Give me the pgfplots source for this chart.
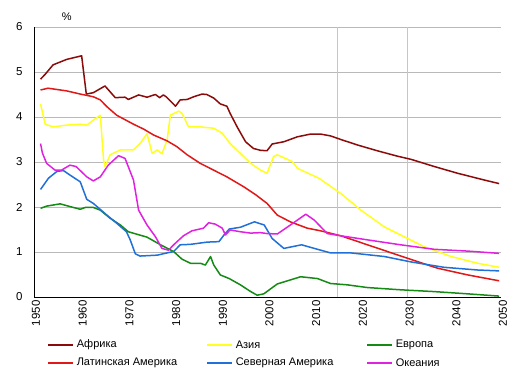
\documentclass[border=0pt]{standalone}
\usepackage{pgfplots}
\pgfplotsset{compat=1.18}
\usepackage{fontspec}
\setmainfont{Liberation Sans}
\definecolor{cAfr}{HTML}{8B0A0A}
\definecolor{cAsia}{HTML}{FFFF22}
\definecolor{cEur}{HTML}{158A15}
\definecolor{cLat}{HTML}{E01818}
\definecolor{cNA}{HTML}{2070D8}
\definecolor{cOce}{HTML}{E022E0}
\begin{document}
\begin{tikzpicture}
\path[use as bounding box] (0pt,0pt) rectangle (516pt,375pt);
\begin{axis}[
  at={(34pt,78pt)}, anchor=south west,
  width=467pt, height=270pt, scale only axis,
  xmin=1950, xmax=2050, ymin=0, ymax=6,
  axis x line*=bottom, axis y line*=left,
  axis line style={black, line width=1pt, -},
  xtick={1950,1960,...,2050}, ytick={0,1,...,6},
  major tick length=0pt,
  ymajorgrids, grid style={gray!55, line width=0.6pt},
  extra x ticks={2015,2030}, extra x tick labels={},
  extra x tick style={xmajorgrids=true, ymajorgrids=false, grid style={gray!45, line width=0.6pt}},
  x tick label style={rotate=90, anchor=east, font=\fontsize{11.5}{13}\selectfont, /pgf/number format/1000 sep={}},
  y tick label style={font=\fontsize{11.5}{13}\selectfont, xshift=-8pt},
  /pgf/number format/assume math mode=true,
  xticklabel style={yshift=-2pt},
  every axis plot/.append style={line width=1.5pt, line join=round},
  clip=false,
]
\addplot[cAfr] coordinates {
(1951.4,4.84)(1952.4,4.95)(1954.1,5.16)(1957,5.28)(1960.2,5.36)(1961.2,4.51)(1962.7,4.54)(1965.2,4.69)(1967.4,4.43)(1969.5,4.44)(1970.2,4.39)(1972.4,4.49)(1974.2,4.44)(1976,4.5)(1976.9,4.43)(1977.7,4.49)(1978.3,4.45)(1980.3,4.24)(1981.3,4.38)(1982.8,4.39)(1984.2,4.45)(1986,4.51)(1987,4.5)(1988.5,4.42)(1989.9,4.29)(1991.3,4.24)(1992,4.08)(1993.5,3.78)(1995.3,3.45)(1997,3.3)(1998.5,3.26)(1999.9,3.25)(2001,3.4)(2003.5,3.45)(2006.4,3.56)(2009.2,3.62)(2011.4,3.62)(2013.5,3.58)(2015.7,3.5)(2019.2,3.38)(2023.5,3.25)(2027.8,3.13)(2030.7,3.06)(2035.7,2.9)(2040.7,2.75)(2046.4,2.6)(2049.6,2.52)};
\addplot[cAsia] coordinates {
(1951.4,4.29)(1952.4,3.84)(1954.1,3.78)(1957,3.82)(1959.9,3.84)(1961.3,3.82)(1962.7,3.93)(1964.2,4.04)(1964.9,3.04)(1965.2,2.9)(1966.3,3.16)(1968.5,3.27)(1971.3,3.27)(1972.7,3.41)(1974.2,3.63)(1975.3,3.19)(1976.4,3.27)(1977.4,3.18)(1978.5,3.49)(1979.2,4.04)(1981,4.13)(1981.7,4.08)(1983.1,3.78)(1985.6,3.78)(1988.5,3.75)(1990.3,3.64)(1992,3.41)(1994.2,3.19)(1996.4,2.97)(1998.5,2.82)(1999.9,2.75)(2001.3,3.12)(2002.1,3.16)(2005.3,3.01)(2006.4,2.86)(2011,2.64)(2015.7,2.3)(2020,1.93)(2025,1.56)(2030,1.3)(2033.5,1.12)(2039.3,0.9)(2045,0.75)(2049.6,0.66)};
\addplot[cEur] coordinates {
(1951.4,1.97)(1952.7,2.02)(1955.6,2.07)(1957.7,2.01)(1959.9,1.95)(1961,1.99)(1962.7,1.99)(1964.2,1.93)(1966.3,1.75)(1968.5,1.6)(1970.2,1.45)(1974.2,1.33)(1977.1,1.16)(1979.9,1.01)(1981.7,0.84)(1983.5,0.75)(1985.6,0.75)(1986.7,0.71)(1987.8,0.9)(1988.5,0.71)(1989.9,0.49)(1991.8,0.41)(1994.2,0.27)(1996.4,0.12)(1997.8,0.04)(1999.2,0.07)(2002.1,0.29)(2007.1,0.45)(2010.7,0.41)(2013.5,0.3)(2017.1,0.27)(2021.4,0.21)(2028.5,0.16)(2035.7,0.12)(2042.9,0.07)(2049.6,0.02)};
\addplot[cLat] coordinates {
(1951.4,4.6)(1953,4.64)(1957,4.58)(1959.9,4.51)(1962.7,4.45)(1964.2,4.38)(1965.6,4.23)(1967.7,4.04)(1971.3,3.84)(1973.5,3.73)(1975.6,3.6)(1978.5,3.47)(1980.6,3.34)(1982.8,3.16)(1985.6,2.97)(1991.3,2.67)(1994.9,2.45)(1997.5,2.27)(1999.9,2.08)(2002.1,1.82)(2004.9,1.67)(2008.5,1.53)(2011.4,1.47)(2015.7,1.36)(2021.4,1.16)(2030,0.86)(2036.4,0.64)(2042.9,0.49)(2049.6,0.36)};
\addplot[cNA] coordinates {
(1951.4,2.39)(1953.1,2.64)(1954.9,2.79)(1956.3,2.81)(1957.7,2.71)(1959.9,2.56)(1961.3,2.17)(1962.7,2.08)(1965.6,1.82)(1967.7,1.64)(1969.8,1.45)(1970.6,1.27)(1971.7,0.96)(1972.7,0.91)(1976.4,0.93)(1978.5,0.98)(1979.9,1.01)(1981.3,1.16)(1983.5,1.17)(1987.1,1.22)(1989.6,1.23)(1990.7,1.38)(1991.8,1.51)(1994.2,1.55)(1997.2,1.67)(1999.3,1.6)(2001,1.3)(2003.5,1.08)(2007.3,1.16)(2010.7,1.06)(2013.5,0.98)(2017.8,0.98)(2025,0.9)(2030.7,0.78)(2037.8,0.66)(2045,0.6)(2049.6,0.58)};
\addplot[cOce] coordinates {
(1951.4,3.41)(1951.8,3.2)(1952.7,2.97)(1954.5,2.82)(1955.9,2.82)(1957.7,2.93)(1959,2.9)(1961.3,2.67)(1962.7,2.58)(1964.2,2.67)(1965.9,2.93)(1968.1,3.14)(1969.5,3.08)(1971.3,2.6)(1972.4,1.93)(1974.2,1.6)(1976,1.34)(1977.4,1.08)(1978.8,1.04)(1979.9,1.16)(1982,1.36)(1983.8,1.47)(1986.3,1.53)(1987.4,1.65)(1988.8,1.62)(1990.3,1.53)(1991,1.38)(1992,1.49)(1994.2,1.45)(1996.4,1.42)(1998.5,1.43)(1999.9,1.41)(2002.1,1.4)(2004.9,1.6)(2008.2,1.84)(2010,1.71)(2012.8,1.41)(2015.7,1.36)(2021.4,1.27)(2028.5,1.16)(2035.7,1.06)(2042.9,1.02)(2049.6,0.97)};
\node[font=\fontsize{11}{13}\selectfont] at (axis cs:1957,6.22) {\%};
\end{axis}
% legend
\begin{scope}[font=\fontsize{11}{13}\selectfont, line width=1.5pt]
\draw[cAfr] (48pt,30pt) -- (73pt,30pt);
\node[anchor=west, inner sep=0pt] at (76pt,30pt) {Африка};
\draw[cAsia] (207pt,30pt) -- (232pt,30pt);
\node[anchor=west, inner sep=0pt] at (235pt,30pt) {Азия};
\draw[cEur] (367pt,30pt) -- (392pt,30pt);
\node[anchor=west, inner sep=0pt] at (395pt,30pt) {Европа};
\draw[cLat] (48pt,12pt) -- (73pt,12pt);
\node[anchor=west, inner sep=0pt] at (76pt,12pt) {Латинская Америка};
\draw[cNA] (207pt,12pt) -- (232pt,12pt);
\node[anchor=west, inner sep=0pt] at (235pt,12pt) {Северная Америка};
\draw[cOce] (367pt,12pt) -- (392pt,12pt);
\node[anchor=west, inner sep=0pt] at (395pt,12pt) {Океания};
\end{scope}
\end{tikzpicture}
\end{document}
